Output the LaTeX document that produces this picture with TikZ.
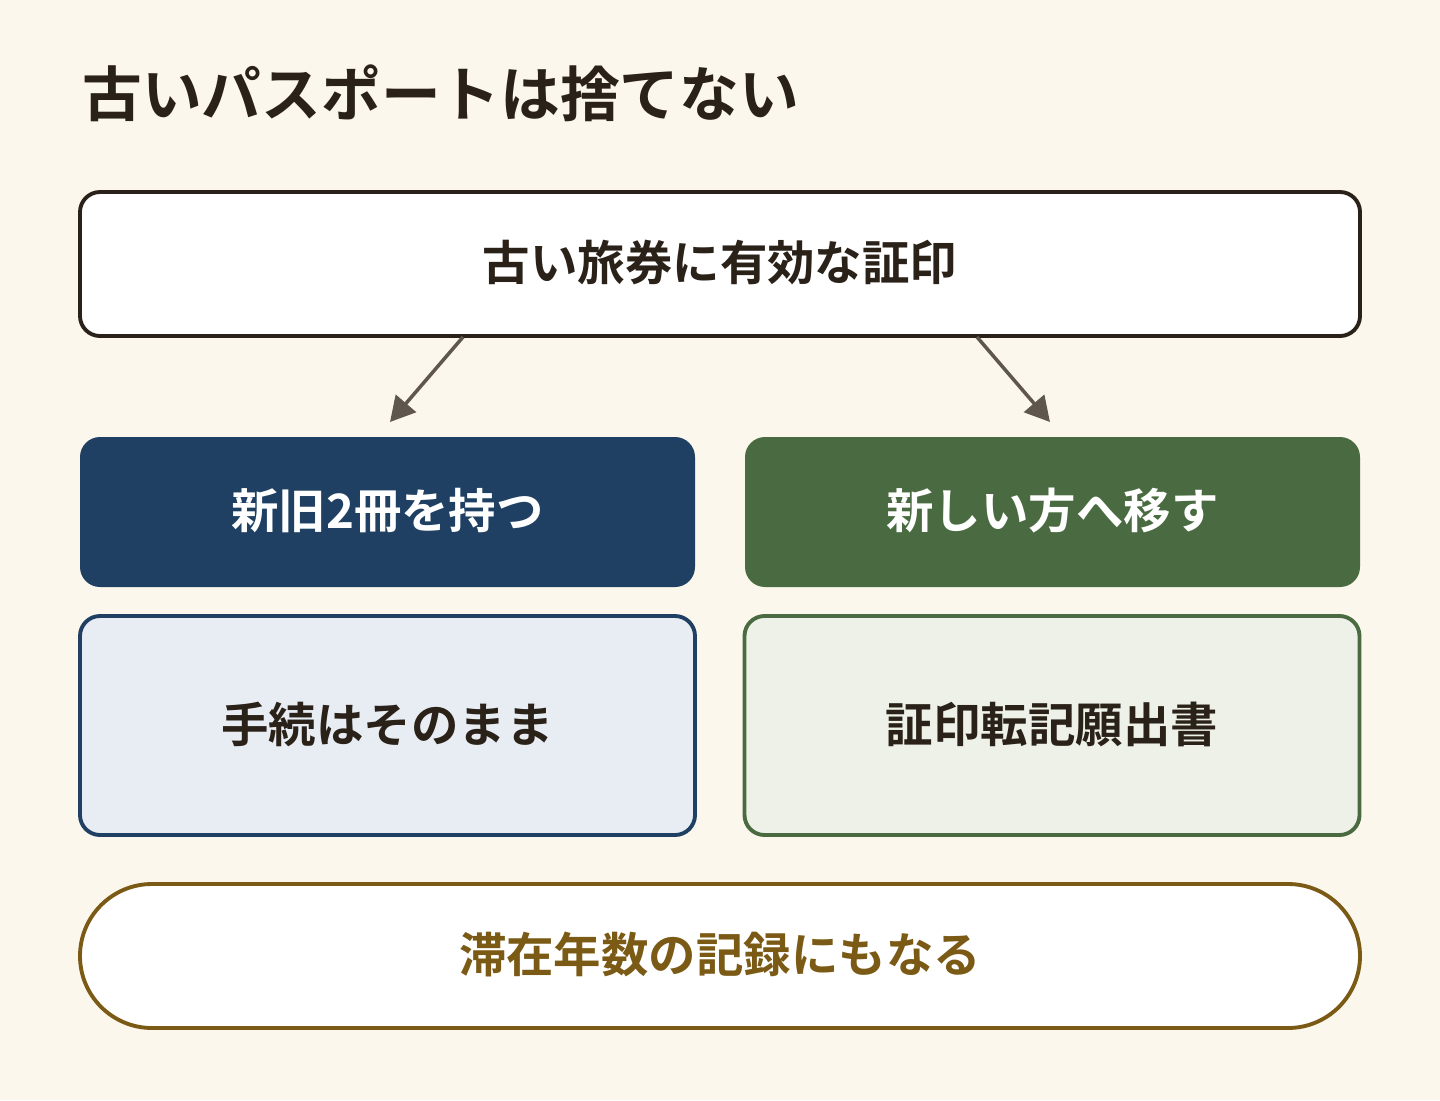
\documentclass[tikz,border=0pt]{standalone}
\usepackage{fontspec}
\newfontfamily\jp{Noto Sans CJK JP}[BoldFont={* Bold}]
\usetikzlibrary{arrows.meta, positioning}
\definecolor{bgcream}{HTML}{FBF7EC}
\definecolor{inkdark}{HTML}{2A2118}
\definecolor{navy}{HTML}{1F4062}
\definecolor{moss}{HTML}{4A6B41}
\definecolor{navylight}{HTML}{E8EDF4}
\definecolor{mosslight}{HTML}{EDF1E8}
\definecolor{ochre}{HTML}{7A5A14}
\definecolor{arrowgray}{HTML}{5F574D}
\begin{document}
\begin{tikzpicture}[x=0.02cm, y=-0.02cm,
    box/.style={rectangle, rounded corners=20*0.02cm, line width=2.2pt, inner sep=0pt, font=\jp\bfseries\fontsize{27}{32}\selectfont},
    arr/.style={-{Triangle[length=14pt, width=15pt]}, line width=2pt, arrowgray}
]
\fill[bgcream] (0,0) rectangle (1440,1100);
\useasboundingbox (0,0) rectangle (1440,1100);

% Title
\node[anchor=west, text=inkdark, font=\jp\bfseries\fontsize{34}{40}\selectfont, inner sep=0pt] (title) at (82,93) {古いパスポートは捨てない};

% Top box
\node[box, draw=inkdark, fill=white, text=inkdark, minimum width=1280*0.02cm, minimum height=144*0.02cm] (top) at (720,264) {\raisebox{4pt}{古い旅券に有効な証印}};

% Two heads
\node[box, draw=none, fill=navy, text=white, minimum width=615*0.02cm, minimum height=150*0.02cm] (keep) at (387.5,512) {\raisebox{4pt}{新旧2冊を持つ}};
\node[box, draw=none, fill=moss, text=white, minimum width=615*0.02cm, minimum height=150*0.02cm] (move) at (1052.5,512) {\raisebox{4pt}{新しい方へ移す}};

% Details
\node[box, draw=navy, fill=navylight, text=inkdark, minimum width=615*0.02cm, minimum height=219*0.02cm] (same) at (387.5,725.5) {\raisebox{4pt}{手続はそのまま}};
\node[box, draw=moss, fill=mosslight, text=inkdark, minimum width=615*0.02cm, minimum height=219*0.02cm] (form) at (1052,725.5) {\raisebox{4pt}{証印転記願出書}};

% Bottom note
\node[box, rounded corners=72*0.02cm, draw=ochre, fill=white, text=ochre, minimum width=1280*0.02cm, minimum height=144*0.02cm] (record) at (720,956) {\raisebox{4pt}{滞在年数の記録にもなる}};

% Arrows
\coordinate (ls) at (463,337);
\coordinate (le) at (390,422);
\coordinate (rs) at (977,337);
\coordinate (re) at (1050,422);
\draw[arr] (ls) -- (le);
\draw[arr] (rs) -- (re);
\end{tikzpicture}
\end{document}
